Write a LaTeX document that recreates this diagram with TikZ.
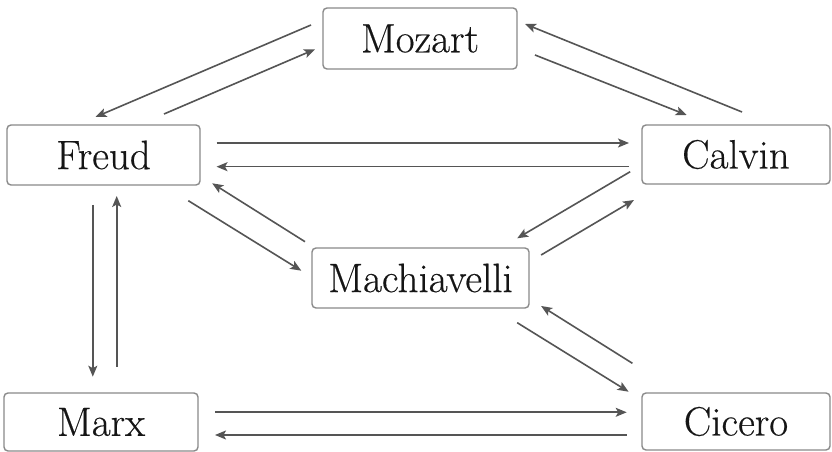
\documentclass[tikz,border=0pt]{standalone}
\usepackage{fontspec}
\usetikzlibrary{arrows.meta}
\newfontfamily\boxfont{Latin Modern Roman}[FakeBold=0.4]
\definecolor{boxgray}{HTML}{8A8A8A}
\definecolor{arrgray}{HTML}{555555}
\definecolor{txt}{HTML}{151515}
\begin{document}
\begin{tikzpicture}[x=1pt,y=1pt,
  namebox/.style={draw=boxgray, line width=1.4pt, rounded corners=4pt, fill=white,
    inner sep=0pt, text=txt, font=\boxfont\fontsize{41}{48}\selectfont},
  arr/.style={draw=arrgray, line width=1.6pt,
    -{Stealth[length=11pt,width=9pt,inset=2.5pt]}}]
\useasboundingbox (0,0) rectangle (832,452);
\fill[white] (0,0) rectangle (832,452);
% nodes
\node[namebox, minimum width=194pt, minimum height=61pt] (mozart) at (420,413.5) {Mozart};
\node[namebox, minimum width=193pt, minimum height=60pt] (freud) at (103.5,297) {Freud};
\node[namebox, minimum width=188pt, minimum height=59pt] (calvin) at (736,297.5) {Calvin};
\node[namebox, minimum width=217pt, minimum height=60pt] (mach) at (420.5,174) {Machiavelli};
\node[namebox, minimum width=194pt, minimum height=58pt] (marx) at (101,30) {Marx};
\node[namebox, minimum width=188pt, minimum height=57pt] (cicero) at (736,30.5) {Cicero};
% Mozart <-> Freud
\draw[arr] ([shift={(-109,13.5)}]mozart.center) -- ([shift={(-8,38)}]freud.center);
\draw[arr] ([shift={(60.5,41)}]freud.center) -- ([shift={(-105,-10.8)}]mozart.center);
% Mozart <-> Calvin
\draw[arr] ([shift={(6,42.5)}]calvin.center) -- ([shift={(105,14.5)}]mozart.center);
\draw[arr] ([shift={(115,-16.5)}]mozart.center) -- ([shift={(-49.3,39.5)}]calvin.center);
% Freud <-> Calvin
\draw[arr] ([shift={(113,12)}]freud.center) -- ([shift={(-107,11.5)}]calvin.center);
\draw[arr] ([shift={(-107,-12.2)}]calvin.center) -- ([shift={(113,-11.7)}]freud.center);
% Freud <-> Machiavelli
\draw[arr] ([shift={(-115.5,36.3)}]mach.center) -- ([shift={(108.7,-28.3)}]freud.center);
\draw[arr] ([shift={(84.8,-45.7)}]freud.center) -- ([shift={(-119.2,7.3)}]mach.center);
% Freud <-> Marx
\draw[arr] ([shift={(-10.7,-50)}]freud.center) -- ([shift={(-8.2,45.3)}]marx.center);
\draw[arr] ([shift={(15.7,55.3)}]marx.center) -- ([shift={(13.2,-41)}]freud.center);
% Calvin <-> Machiavelli
\draw[arr] ([shift={(-105.8,-17.2)}]calvin.center) -- ([shift={(96.7,39.7)}]mach.center);
\draw[arr] ([shift={(120.6,23)}]mach.center) -- ([shift={(-102,-45.5)}]calvin.center);
% Cicero <-> Machiavelli
\draw[arr] ([shift={(-103.6,58.2)}]cicero.center) -- ([shift={(120.6,-28)}]mach.center);
\draw[arr] ([shift={(96.7,-44.7)}]mach.center) -- ([shift={(-107.4,29.8)}]cicero.center);
% Marx <-> Cicero
\draw[arr] ([shift={(114,9.7)}]marx.center) -- ([shift={(-109.3,9.2)}]cicero.center);
\draw[arr] ([shift={(-109.3,-13.5)}]cicero.center) -- ([shift={(114,-13)}]marx.center);
\end{tikzpicture}
\end{document}
